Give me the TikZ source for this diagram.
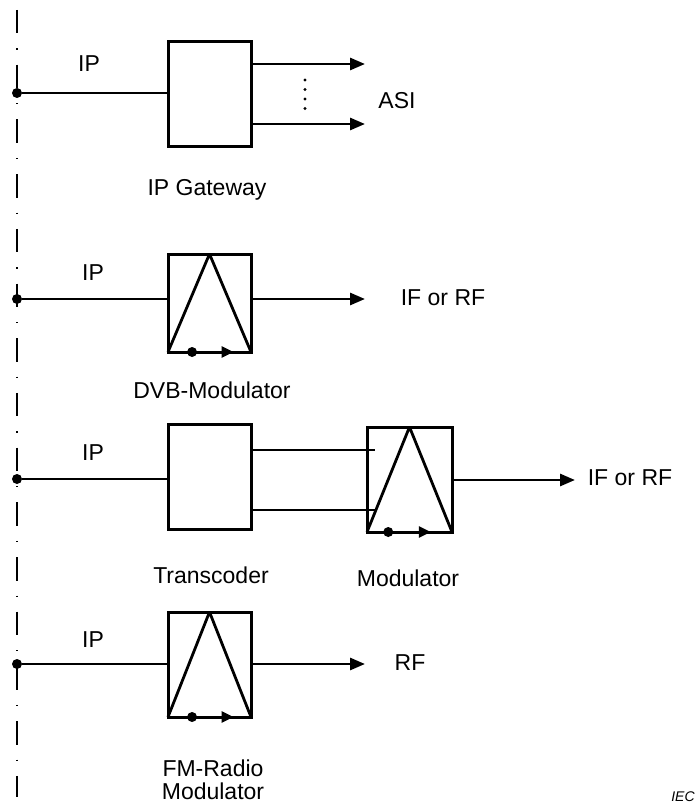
\documentclass[tikz,border=0pt]{standalone}
\usepackage{fontspec}
\setmainfont{Liberation Sans}
\usetikzlibrary{arrows.meta,calc}
\tikzset{
  blk/.style={
    draw,
    line width=3pt,
    minimum width=83pt,
    inner sep=0pt,
    outer sep=0pt
  },
  wire/.style={
    line width=2.8pt
  },
  outarrow/.style={
    wire,
    -{Triangle[length=15pt,width=12pt]}
  },
  modarrow/.style={
    wire,
    -{Triangle[length=12pt,width=11pt]}
  },
  junct/.style={
    inner sep=0pt,
    minimum size=10pt,
    shape=circle,
    fill
  },
  bus/.style={
    line width=2.6pt,
    dash pattern=on 23.5pt off 15pt on 1.2pt off 15pt
  },
  lbl/.style={
    anchor=base,
    inner sep=0pt
  },
  every picture/.style={
    font=\fontsize{23}{27}\selectfont
  }
}
\begin{document}
\begin{tikzpicture}[x=1pt,y=-1pt]
  \useasboundingbox (0,0) rectangle (700,805);
  % network bus
  \coordinate (bustop) at (17,10);
  \coordinate (busbot) at (17,797);
  \draw[bus] (bustop) -- (busbot);
  \node[junct] (j1) at (17,93) {};
  \node[junct] (j2) at (17,299) {};
  \node[junct] (j3) at (17,479) {};
  \node[junct] (j4) at (17,664) {};

  % IP gateway
  \node[blk, minimum height=105pt] (gw) at (209.5,94.5) {};
  \coordinate (asi1) at (365,64);
  \coordinate (asi2) at (365,124);
  \draw[wire] (j1) -- (j1 -| gw.west);
  \draw[outarrow] (gw.east |- asi1) -- (asi1);
  \draw[outarrow] (gw.east |- asi2) -- (asi2);
  \foreach \y in {80,89.5,99,108.5}
    \fill (305,\y) circle (1.6pt);
  \node[lbl] (ip1) at (89,72) {IP};
  \node[lbl] (asi) at (397,108.5) {ASI};
  \node[lbl] (gwl) at (207,196) {IP Gateway};

  % DVB modulator
  \node[blk, minimum height=98pt] (dvb) at (209.5,303) {};
  \draw[wire, line join=bevel] (dvb.south west) -- (dvb.north) -- (dvb.south east);
  \node[junct] (dvbd) at ($(dvb.south west)!0.29!(dvb.south east)$) {};
  \draw[modarrow] (dvbd) -- ($(dvb.south west)!0.79!(dvb.south east)$);
  \coordinate (ifrf1) at (365,299);
  \draw[wire] (j2) -- (j2 -| dvb.west);
  \draw[outarrow] (dvb.east |- ifrf1) -- (ifrf1);
  \node[lbl] (ip2) at (93,280) {IP};
  \node[lbl] (if1) at (443,305) {IF or RF};
  \node[lbl] (dvbl) at (212,398) {DVB-Modulator};

  % transcoder and modulator
  \node[blk, minimum height=105pt] (tc) at (209.5,476.5) {};
  \node[blk, minimum width=85pt, minimum height=105pt] (mod) at (409.5,479.5) {};
  \draw[wire, line join=bevel] (mod.south west) -- (mod.north) -- (mod.south east);
  \node[junct] (modd) at ($(mod.south west)!0.25!(mod.south east)$) {};
  \draw[modarrow] (modd) -- ($(mod.south west)!0.75!(mod.south east)$);
  \coordinate (m1) at (375,450);
  \coordinate (m2) at (375,510);
  \coordinate (ifrf2) at (575,480);
  \draw[wire] (j3) -- (j3 -| tc.west);
  \draw[wire] (tc.east |- m1) -- (m1);
  \draw[wire] (tc.east |- m2) -- (m2);
  \draw[outarrow] (mod.east |- ifrf2) -- (ifrf2);
  \node[lbl] (ip3) at (93,460) {IP};
  \node[lbl] (if2) at (630,485) {IF or RF};
  \node[lbl] (tcl) at (211,583) {Transcoder};
  \node[lbl] (modl) at (408,586) {Modulator};

  % FM radio modulator
  \node[blk, minimum height=105pt] (fm) at (209.5,664.5) {};
  \draw[wire, line join=bevel] (fm.south west) -- (fm.north) -- (fm.south east);
  \node[junct] (fmd) at ($(fm.south west)!0.29!(fm.south east)$) {};
  \draw[modarrow] (fmd) -- ($(fm.south west)!0.79!(fm.south east)$);
  \coordinate (rf1) at (365,664);
  \draw[wire] (j4) -- (j4 -| fm.west);
  \draw[outarrow] (fm.east |- rf1) -- (rf1);
  \node[lbl] (ip4) at (93,647) {IP};
  \node[lbl] (rf) at (410,670) {RF};
  \node[lbl] (fml1) at (213,776) {FM-Radio};
  \node[lbl] (fml2) at (213,799) {Modulator};

  \node[lbl, font=\fontsize{14}{16}\selectfont\itshape] (iec) at (683,801) {IEC};
\end{tikzpicture}
\end{document}
